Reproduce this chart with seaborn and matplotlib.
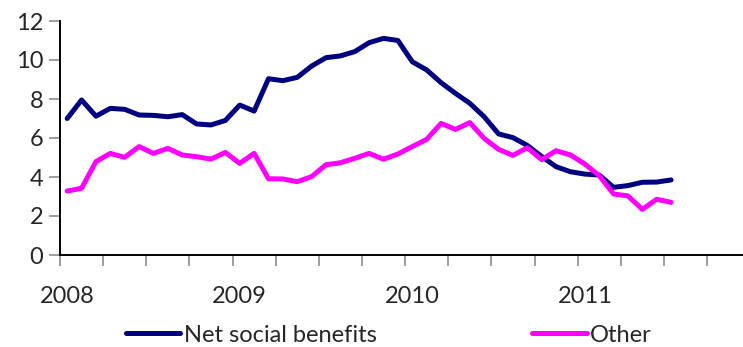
import numpy as np
import pandas as pd
import matplotlib
matplotlib.use("Agg")
import matplotlib.pyplot as plt
import seaborn as sns

# monthly data, Jan 2008 - Jul 2011
months = pd.date_range("2008-01-01", "2011-07-01", freq="MS")
net_social_benefits = [7.0, 7.95, 7.12, 7.52, 7.47, 7.18, 7.16, 7.09, 7.2, 6.72, 6.67, 6.9,
                       7.69, 7.38, 9.04, 8.94, 9.11, 9.69, 10.12, 10.21, 10.43, 10.89, 11.11, 11.0,
                       9.91, 9.49, 8.84, 8.29, 7.78, 7.09, 6.21, 6.02, 5.62, 5.05, 4.53, 4.27,
                       4.15, 4.1, 3.47, 3.56, 3.73, 3.74, 3.85]
other = [3.28, 3.42, 4.79, 5.21, 5.01, 5.56, 5.21, 5.47, 5.13, 5.04, 4.92, 5.26,
         4.7, 5.21, 3.91, 3.9, 3.76, 4.02, 4.63, 4.73, 4.96, 5.21, 4.91, 5.18,
         5.56, 5.93, 6.75, 6.44, 6.79, 5.98, 5.42, 5.11, 5.5, 4.89, 5.35, 5.13,
         4.67, 4.07, 3.13, 3.03, 2.34, 2.86, 2.7]
year_labels = ["2008", "2009", "2010", "2011"]

colores = {"Net social benefits": "#000080", "Other": "#FF00FF"}

df = pd.DataFrame({
    "pos": np.tile(np.arange(len(months)), 2),
    "valor": net_social_benefits + other,
    "serie": ["Net social benefits"] * len(months) + ["Other"] * len(months),
})

sns.set_style("white")
plt.rcParams["font.family"] = ["Lato", "DejaVu Sans"]
fs = 17

fig = plt.figure(figsize=(7.43, 3.47), dpi=100)
ax = fig.add_axes([60 / 743, 92 / 347, 683 / 743, 234 / 347])

sns.lineplot(data=df, x="pos", y="valor", hue="serie", palette=colores,
             linewidth=3.6, ax=ax, legend=False, solid_capstyle="round")

ax.set_xlim(-0.5, 47.0)
ax.set_ylim(0, 12)
ax.set_yticks(range(0, 13, 2))
ax.set_xlabel("")
ax.set_ylabel("")

# quarter ticks (no labels), year labels on January
ax.set_xticks(np.arange(-0.5, 47.5, 3))
ax.set_xticklabels([])
ax.set_xticks([0, 12, 24, 36], minor=True)
ax.set_xticklabels(year_labels, minor=True)
ax.tick_params(axis="x", which="major", direction="out", length=8, width=1.2,
               color="#8c8c8c", bottom=True)
ax.tick_params(axis="x", which="minor", length=0, pad=22, labelsize=fs)
ax.tick_params(axis="y", direction="out", length=8, width=1.2, color="#8c8c8c",
               left=True, labelsize=fs, pad=4)

for s in ["top", "right"]:
    ax.spines[s].set_visible(False)
for s in ["left", "bottom"]:
    ax.spines[s].set_color("black")
    ax.spines[s].set_linewidth(1.4)

handles = [plt.Line2D([], [], color=c, lw=3.6, solid_capstyle="round") for c in colores.values()]
fig.legend(handles, list(colores.keys()), loc="center", bbox_to_anchor=(389 / 743, 12 / 347),
           ncol=2, frameon=False, fontsize=fs, handlelength=2.3, handletextpad=0.15,
           columnspacing=6.6, borderpad=0, borderaxespad=0)

fig.savefig("out.png", dpi=100, facecolor="white")
